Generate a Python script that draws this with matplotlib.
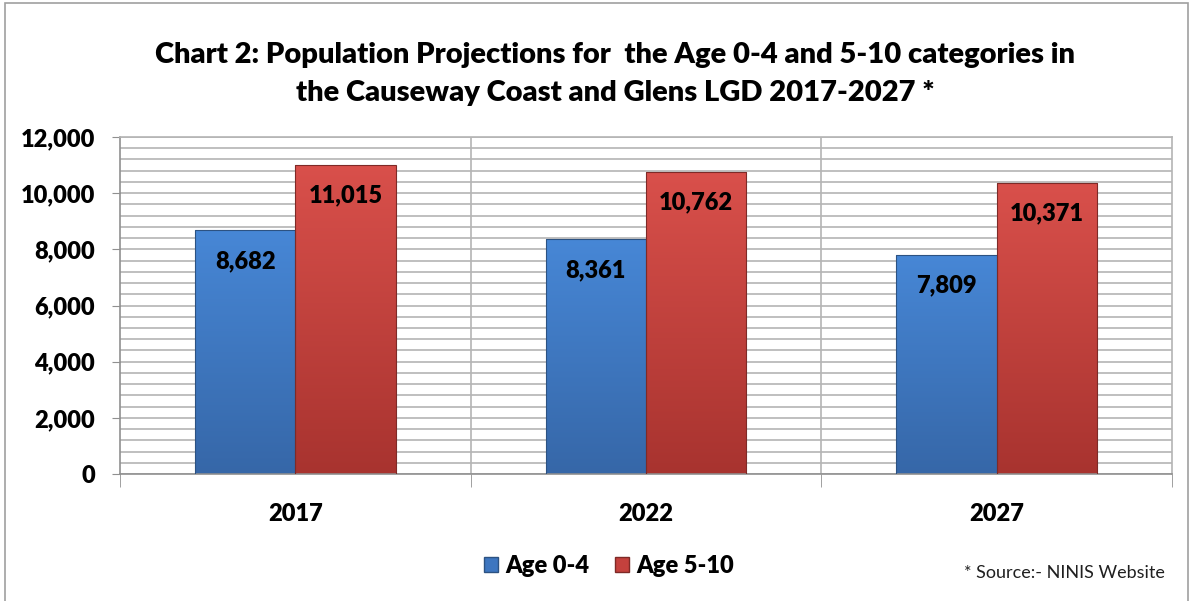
import numpy as np
import matplotlib
matplotlib.use("Agg")
import matplotlib.pyplot as plt
from matplotlib.ticker import MultipleLocator, FuncFormatter
from matplotlib.colors import LinearSegmentedColormap

plt.rcParams['font.family'] = ['Lato', 'DejaVu Sans']

years = ["2017", "2022", "2027"]
age_0_4 = [8682, 8361, 7809]
age_5_10 = [11015, 10762, 10371]
series_names = ["Age 0-4", "Age 5-10"]

title_lines = ["Chart 2: Population Projections for  the Age 0-4 and 5-10 categories in",
               "the Causeway Coast and Glens LGD 2017-2027 *"]

BOLD = "heavy"

fig = plt.figure(figsize=(11.93, 6.01), dpi=100)
ax = fig.add_axes([120 / 1193, 1 - 474 / 601, (1172 - 120) / 1193, (474 - 137) / 601])

# outer chart border
fig.patches.append(plt.Rectangle((5 / 1193, -0.01), (1188 - 5) / 1193, 1 - 3 / 601 + 0.01,
                                 transform=fig.transFigure, fill=False,
                                 edgecolor="#a0a0a0", linewidth=1.2))

x = np.arange(len(years))
w = 0.286

def gradient_bars(bars, top_col, bot_col, edge):
    cmap = LinearSegmentedColormap.from_list("g", [bot_col, top_col])
    for b in bars:
        b.set_facecolor("none")
        b.set_edgecolor(edge)
        b.set_linewidth(0.8)
        x0, y0 = b.get_x(), b.get_y()
        bw, bh = b.get_width(), b.get_height()
        grad = np.linspace(0, 1, 256).reshape(-1, 1)
        im = ax.imshow(grad, extent=[x0, x0 + bw, y0, y0 + bh], origin="lower",
                       cmap=cmap, aspect="auto", zorder=2)
        im.set_clip_path(b)

b1 = ax.bar(x - w / 2, age_0_4, w, label=series_names[0], zorder=3)
b2 = ax.bar(x + w / 2, age_5_10, w, label=series_names[1], zorder=3)
gradient_bars(b1, "#4787d6", "#3667a8", "#2c5282")
gradient_bars(b2, "#d9504b", "#a8332f", "#7e2a27")

for bars, vals in ((b1, age_0_4), (b2, age_5_10)):
    for b, v in zip(bars, vals):
        ax.text(b.get_x() + b.get_width() / 2, v - 1100, f"{v:,}",
                ha="center", va="center", fontsize=17, fontweight=BOLD, zorder=4)

ax.set_xlim(-0.5, len(years) - 0.5)
ax.set_ylim(0, 12000)
ax.yaxis.set_major_locator(MultipleLocator(2000))
ax.yaxis.set_minor_locator(MultipleLocator(400))
ax.yaxis.set_major_formatter(FuncFormatter(lambda v, p: f"{int(v):,}"))
ax.grid(which="both", axis="y", color="#b4b4b4", linewidth=1.2, zorder=0)
ax.set_axisbelow(True)
for xb in [0.5, 1.5]:
    ax.axvline(xb, color="#b4b4b4", linewidth=1.2, zorder=0)

ax.set_xticks(x)
ax.set_xticklabels(years, fontsize=17, fontweight=BOLD)
ax.set_xticks([-0.5, 0.5, 1.5, 2.5], minor=True)
ax.tick_params(axis="x", which="major", length=0, pad=21)
ax.tick_params(axis="x", which="minor", length=9, color="#909090")
ax.tick_params(axis="y", which="major", length=6, color="#909090", labelsize=17, pad=12)
ax.tick_params(axis="y", which="minor", length=0)
for lbl in ax.get_yticklabels():
    lbl.set_fontweight(BOLD)

for s in ["top", "right"]:
    ax.spines[s].set_color("#b4b4b4")
    ax.spines[s].set_linewidth(1.2)
for s in ["left", "bottom"]:
    ax.spines[s].set_color("#909090")
    ax.spines[s].set_linewidth(1.2)

for line, ypix in zip(title_lines, [55, 93]):
    fig.text(615 / 1193, 1 - ypix / 601, line, ha="center", va="center",
             fontsize=21, fontweight=BOLD)

handles = [plt.Rectangle((0, 0), 1, 1, facecolor="#3d76c0", edgecolor="#2c5282"),
           plt.Rectangle((0, 0), 1, 1, facecolor="#c4413d", edgecolor="#7e2a27")]
fig.legend(handles, series_names, loc="center", bbox_to_anchor=(609 / 1193, 1 - 566 / 601),
           ncol=2, frameon=False, prop={"size": 17, "weight": BOLD},
           handlelength=0.6, handleheight=0.6, handletextpad=0.3, columnspacing=1.1)

fig.text(1165 / 1193, 1 - 573 / 601, "* Source:- NINIS Website", ha="right", va="center",
         fontsize=13, color="#202020")

fig.savefig("out.png", dpi=100)
